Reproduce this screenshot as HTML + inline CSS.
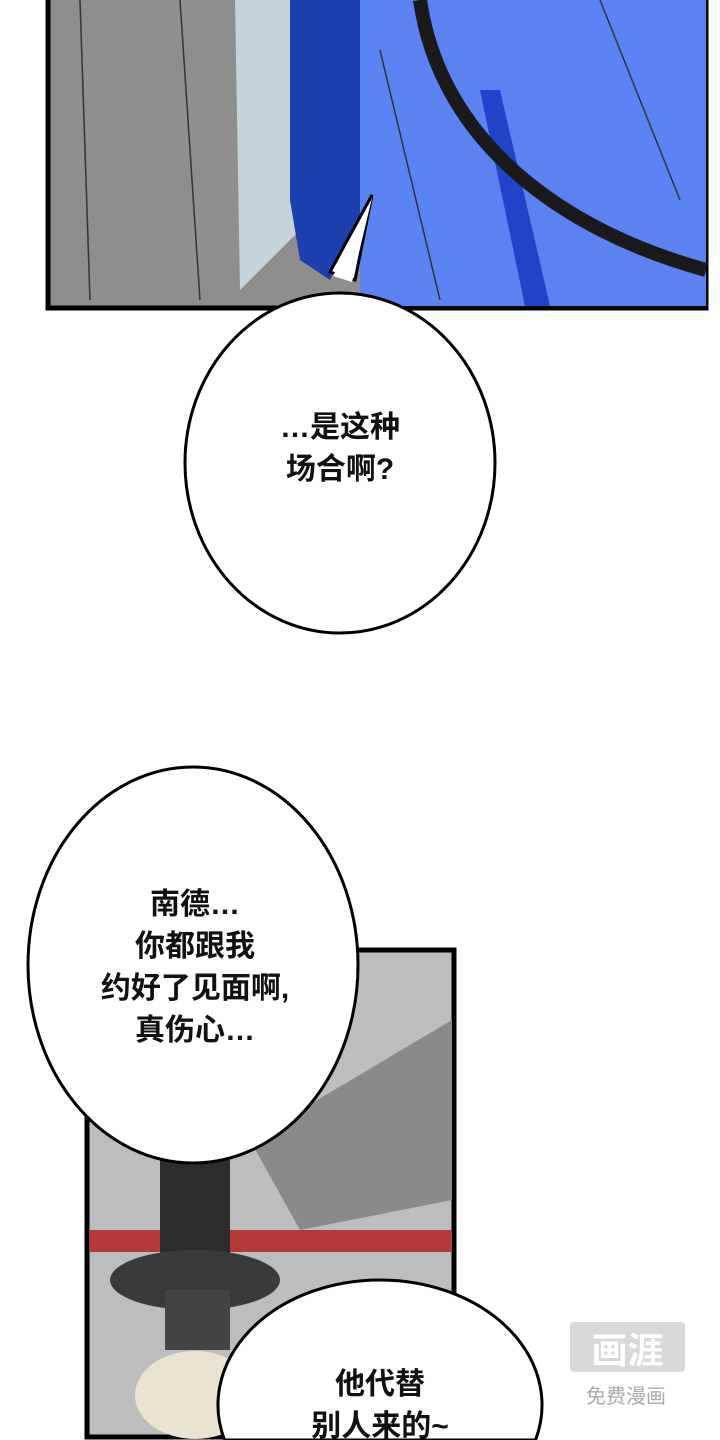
<!DOCTYPE html>
<html style="margin:0;width:720px;height:1440px;overflow:hidden"><head><meta charset="utf-8"><style>
body{margin:0;width:720px;height:1440px;background:#fff;overflow:hidden;position:relative;font-family:"Liberation Sans","Noto Sans CJK SC",sans-serif}
svg{position:absolute;left:0;top:0}
.t{position:absolute;text-align:center;font-size:30px;line-height:42px;color:#111;font-weight:bold}
</style></head><body>
<svg width="720" height="1440">
<rect x="48" y="-5" width="658" height="313" fill="#8e8e8e" stroke="#000" stroke-width="5"/>
<polygon points="235,0 300,0 300,230 240,290" fill="#c7d2d8"/>
<polygon points="290,0 365,0 365,210 330,280 300,260 290,200" fill="#1e3fb0"/>
<polygon points="360,0 706,0 706,306 360,306" fill="#5a82f0"/>
<polygon points="480,90 500,90 550,306 525,306" fill="#1f44c8"/>
<path d="M420,0 C440,140 560,230 706,270" stroke="#1a1a1a" stroke-width="14" fill="none"/>
<path d="M80,0 L90,300 M180,0 L200,300 M380,50 L440,300 M600,0 L680,200" stroke="#333" stroke-width="1.5" fill="none"/>
<path d="M330,272 L372,195 L355,280 Z" fill="#fff" stroke="#000" stroke-width="3"/>
<ellipse cx="340" cy="463" rx="155" ry="170" fill="#fff" stroke="#000" stroke-width="3"/>
<polygon points="333,276 372,198 352,282" fill="#fff"/>
<rect x="87" y="950" width="367" height="487" fill="#bdbdbd" stroke="#000" stroke-width="5"/>
<polygon points="250,1140 452,1020 452,1200 300,1230" fill="#8a8a8a"/>
<rect x="90" y="1230" width="362" height="22" fill="#b43a3a"/>
<rect x="160" y="1160" width="70" height="100" fill="#2c2c2c"/>
<ellipse cx="195" cy="1280" rx="85" ry="30" fill="#3a3a3a"/>
<rect x="165" y="1290" width="65" height="60" fill="#444"/>
<ellipse cx="195" cy="1395" rx="60" ry="44" fill="#e8e4d0"/>
<ellipse cx="193" cy="965" rx="165" ry="198" fill="#fff" stroke="#000" stroke-width="3"/>
<path d="M224.5,1440 A162,125 0 1,1 535.5,1440 Z" fill="#fff" stroke="#000" stroke-width="3"/>
<rect x="570" y="1322" width="115" height="50" rx="4" fill="#d0d0d0" opacity="0.8"/>
</svg>
<div class="t" style="left:200px;top:407px;width:280px">…是这种<br>场合啊?</div>
<div class="t" style="left:40px;top:884px;width:310px">南德…<br>你都跟我<br>约好了见面啊,<br>真伤心…</div>
<div class="t" style="left:240px;top:1364px;width:280px;height:76px;overflow:hidden">他代替<br>别人来的~</div>
<div style="position:absolute;left:570px;top:1326px;width:115px;text-align:center;color:#fff;font-size:36px;line-height:44px;font-weight:bold;font-family:'Noto Sans CJK SC',sans-serif">画涯</div>
<div style="position:absolute;left:566px;top:1382px;width:120px;text-align:center;color:#aaa;font-size:20px;line-height:26px;font-family:'Noto Sans CJK SC',sans-serif">免费漫画</div>
</body></html>
